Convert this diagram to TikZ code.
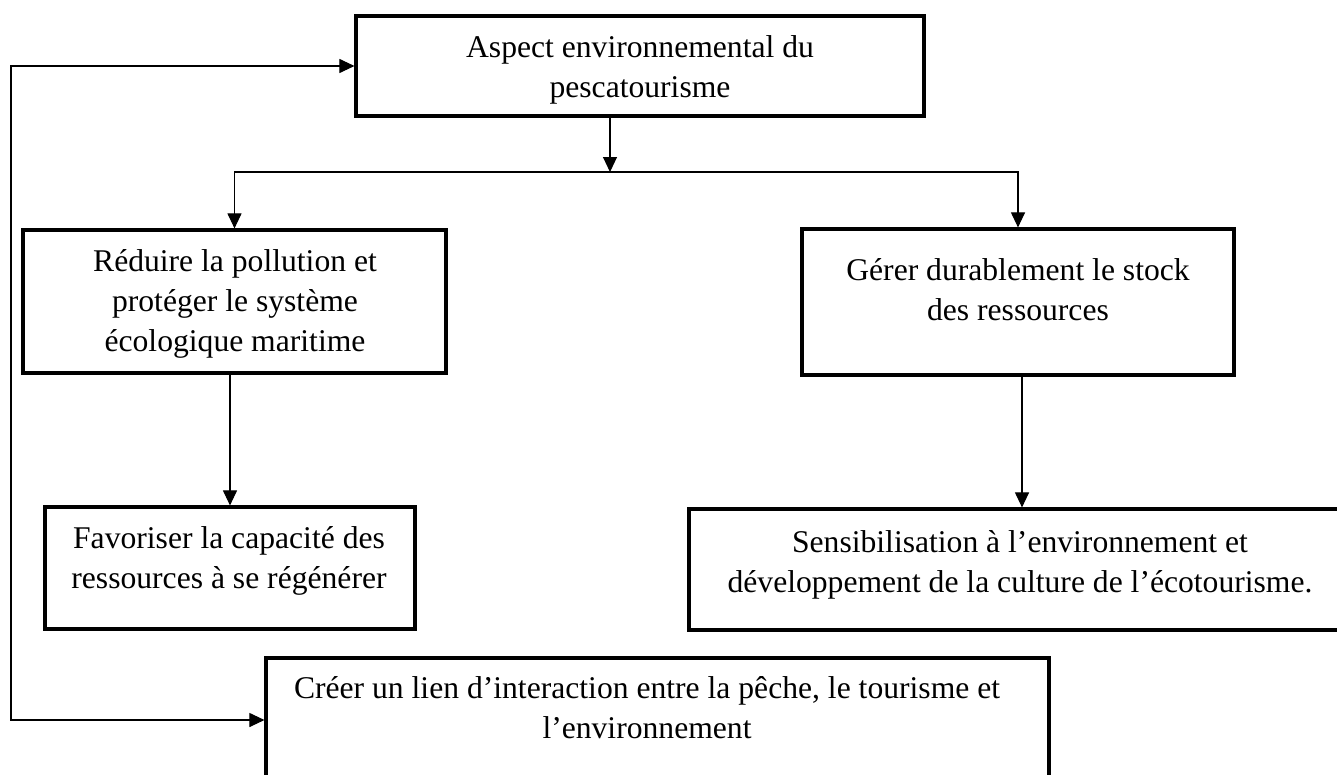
\documentclass[tikz,border=0pt]{standalone}
\usepackage{fontspec}
\setmainfont{Liberation Serif}
\usetikzlibrary{arrows.meta,fit}
\tikzset{
	boite/.style={draw,line width=1.8pt,inner sep=0pt},
	texte/.style={anchor=north,align=center,inner sep=0pt,font=\fontsize{18}{22.8}\selectfont},
	fleche/.style={line width=0.6pt,-{Triangle[length=0.3cm,width=0.28cm]}},
	fleches/.style={line width=0.6pt,{Triangle[length=0.3cm,width=0.28cm]}-{Triangle[length=0.3cm,width=0.28cm]}}
}
\begin{document}
\begin{tikzpicture}[x=0.02cm,y=-0.02cm,join=miter]
		\clip (0,0) rectangle (1337,774);
		\path
		(356,16) coordinate (A1) (924,116) coordinate (A2)
		(23,230) coordinate (R1) (446,373) coordinate (R2)
		(802,229) coordinate (G1) (1234,375) coordinate (G2)
		(45,507) coordinate (F1) (415,629) coordinate (F2)
		(689,509) coordinate (S1) (1355,630) coordinate (S2)
		(266,658) coordinate (C1) (1049,782) coordinate (C2)
		(610,172) coordinate (split)
		(11,720) coordinate (retour);
		% boites
		\node[boite,fit=(A1)(A2)] (aspect) {};
		\node[boite,fit=(R1)(R2)] (reduire) {};
		\node[boite,fit=(G1)(G2)] (gerer) {};
		\node[boite,fit=(F1)(F2)] (favoriser) {};
		\node[boite,fit=(S1)(S2)] (sensib) {};
		\node[boite,fit=(C1)(C2)] (creer) {};
		% textes
		\node[texte] (aspecttxt) at (640,35) {Aspect environnemental du\\pescatourisme};
		\node[texte] (reduiretxt) at (235,249) {Réduire la pollution et\\protéger le système\\écologique maritime};
		\node[texte] (gerertxt) at (1018,258) {Gérer durablement le stock\\des ressources};
		\node[texte] (favorisertxt) at (229,526) {Favoriser la capacité des\\ressources à se régénérer};
		\node[texte] (sensibtxt) at (1020,530) {Sensibilisation à l’environnement et\\développement de la culture de l’écotourisme.};
		\node[texte] (creertxt) at (647,676) {Créer un lien d’interaction entre la pêche, le tourisme et\\l’environnement};
		% fleches
		\draw[fleche] (aspect.south -| split) -- (split);
		\draw[fleche] (split) -| (reduire.north);
		\draw[fleche] (split) -| (gerer.north);
		\draw[fleche] (favoriser.north |- reduire.south) -- (favoriser.north);
		\draw[fleche] (sensib.north |- gerer.south) -- (sensib.north);
		\draw[fleches] (aspect.west) -| (retour) -- (creer.west);
	\end{tikzpicture}
\end{document}
